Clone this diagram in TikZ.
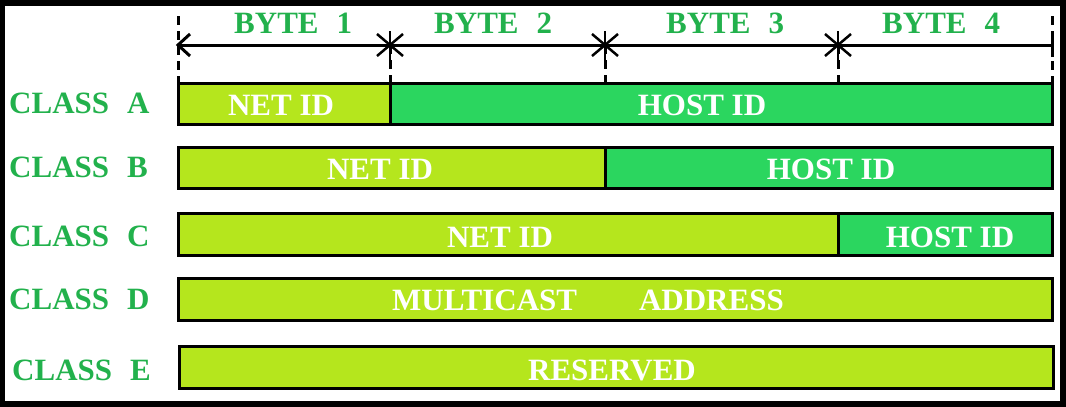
\documentclass[tikz,border=0pt]{standalone}
\usepackage{fontspec}
\setmainfont{Liberation Serif}
\definecolor{limeg}{HTML}{B5E61D}
\definecolor{hostg}{HTML}{2BD65F}
\definecolor{labg}{HTML}{22B14C}
\begin{document}
\begin{tikzpicture}[x=1pt,y=-1pt,
  seg/.style={draw=black, line width=3pt, inner sep=0pt, outer sep=0pt, anchor=north west},
  netseg/.style={seg, fill=limeg},
  hostseg/.style={seg, fill=hostg},
  lab/.style={font=\fontsize{31}{36}\selectfont\bfseries, text=labg, inner sep=0pt, anchor=base west},
  bartxt/.style={font=\fontsize{31}{36}\selectfont\bfseries, text=white, inner sep=0pt, anchor=base},
  guide/.style={line width=3pt, dash pattern=on 9pt off 6pt},
  mline/.style={line width=3pt},
  sep/.style={line width=2.5pt}
]
\useasboundingbox (0,0) rectangle (1066,407);
% outer frame
\draw[line width=6pt] (2,2.5) rectangle (1063,403.5);

% bars
\node[netseg, minimum width=212pt, minimum height=41pt] (anet) at (178,83.5) {};
\node[hostseg, minimum width=662pt, minimum height=41pt] (ahost) at (390,83.5) {};
\node[netseg, minimum width=427pt, minimum height=41.5pt] (bnet) at (178,147) {};
\node[hostseg, minimum width=447pt, minimum height=41.5pt] (bhost) at (605,147) {};
\node[netseg, minimum width=660pt, minimum height=42pt] (cnet) at (178,213.5) {};
\node[hostseg, minimum width=214pt, minimum height=42pt] (chost) at (838,213.5) {};
\node[netseg, minimum width=874pt, minimum height=42pt] (dbar) at (178,278) {};
\node[netseg, minimum width=873.5pt, minimum height=42pt] (ebar) at (179.5,346.5) {};

% bar texts
\node[bartxt] (tanet) at (281,115) {NET ID};
\node[bartxt] (tahost) at (702,115) {HOST ID};
\node[bartxt] (tbnet) at (380,179) {NET ID};
\node[bartxt] (tbhost) at (831,179) {HOST ID};
\node[bartxt] (tcnet) at (500,247) {NET ID};
\node[bartxt] (tchost) at (950,247) {HOST ID};
\node[bartxt] (tdbar) at (588,310) {MULTICAST\hspace{62pt}ADDRESS};
\node[bartxt] (tebar) at (612,380) {RESERVED};

% class labels
\node[lab] (la) at (9,113) {CLASS\hspace{18pt}A};
\node[lab] (lb) at (9,177) {CLASS\hspace{18pt}B};
\node[lab] (lc) at (9,246) {CLASS\hspace{18pt}C};
\node[lab] (ld) at (9,309) {CLASS\hspace{18pt}D};
\node[lab] (le) at (12,380) {CLASS\hspace{18pt}E};

% byte labels
\node[lab] (b1) at (234,33) {BYTE\hspace{18pt}1};
\node[lab] (b2) at (434,33) {BYTE\hspace{18pt}2};
\node[lab] (b3) at (666,33) {BYTE\hspace{18pt}3};
\node[lab] (b4) at (882,33) {BYTE\hspace{18pt}4};

% ruler
\coordinate (t0) at (178,45);
\coordinate (t1) at (390,45);
\coordinate (t2) at (605,45);
\coordinate (t3) at (838,45);
\coordinate (t4) at (1052,45);
\coordinate (g0) at (178,16);
\coordinate (g4) at (1052,16);

\draw[guide] (g0) -- (anet.north west);
\draw[guide] (t1) -- (anet.north east);
\draw[guide] (t2) -- ([xshift=215pt]ahost.north west);
\draw[guide] (t3) -- ([xshift=448pt]ahost.north west);
\draw[guide] (g4) -- (ahost.north east);

\draw[mline] (t0) -- (t4);
% left arrow head
\draw[mline] ([shift={(12,-11)}]t0) -- (t0) -- ([shift={(12,11)}]t0);
% right tick
\draw[mline] ([yshift=-12pt]t4) -- ([yshift=12pt]t4);
% star marks
\foreach \c in {t1,t2,t3}{
  \draw[sep] ([yshift=-16pt]\c) -- ([yshift=14pt]\c);
  \draw[sep] ([shift={(-13,-11)}]\c) -- ([shift={(13,11)}]\c);
  \draw[sep] ([shift={(-13,11)}]\c) -- ([shift={(13,-11)}]\c);
}
\end{tikzpicture}
\end{document}
